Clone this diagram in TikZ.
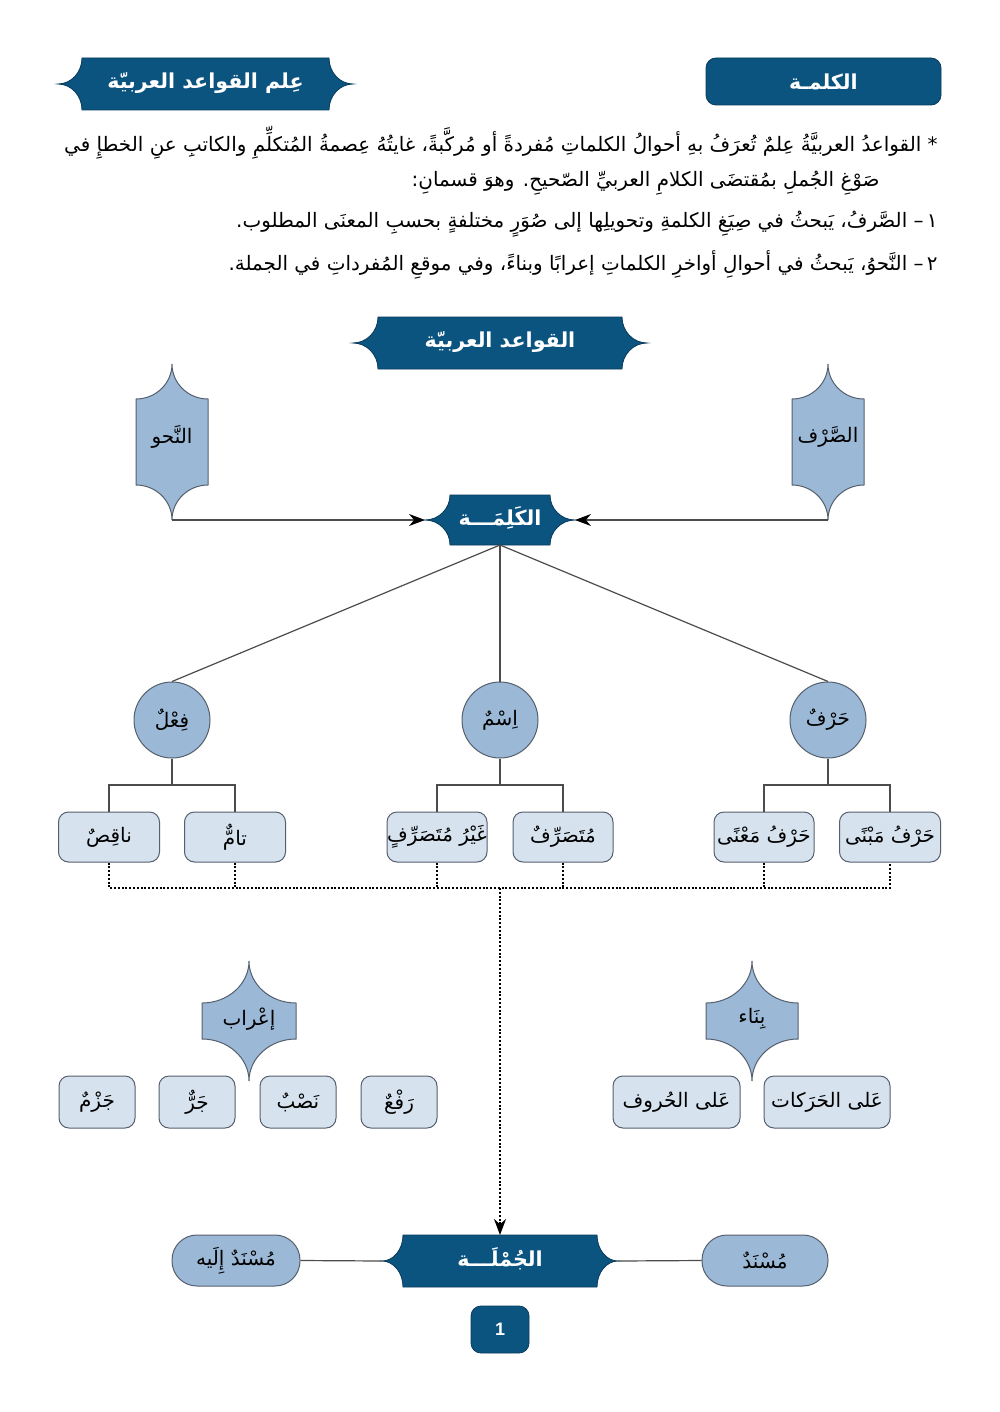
\documentclass[tikz,border=0pt]{standalone}
\usepackage{fontspec}
\usetikzlibrary{arrows.meta,calc}
\TeXXeTstate=1
\newfontfamily\ar[Script=Arabic]{DejaVu Sans}
\newfontfamily\lat{Liberation Sans}
\definecolor{dblue}{RGB}{12,84,128}
\definecolor{mblue}{RGB}{155,185,214}
\definecolor{lblue}{RGB}{214,227,239}
\definecolor{edgec}{RGB}{85,95,110}
\tikzset{
  conn/.style={draw=black!70, line width=0.6pt},
  dotsline/.style={draw=black, line width=1.1pt, dash pattern=on 1pt off 0.9pt},
  tip/.style={-{Stealth[length=8pt,width=6pt,black]}},
  titletext/.style={text=white, font=\fontsize{10.3}{12}\ar\bfseries, inner sep=0pt},
  lbl/.style={text=black, font=\fontsize{10}{12}\ar, inner sep=0pt},
  para/.style={text=black, font=\fontsize{9.95}{11}\ar, inner sep=0pt, anchor=east},
  darkfill/.style={fill=dblue, draw=dblue!70!black, line width=0.4pt},
  midfill/.style={fill=mblue, draw=edgec, line width=0.5pt},
  boxn/.style={draw=edgec, fill=lblue, rounded corners=5pt, minimum height=25pt,
    line width=0.5pt, text=black, font=\fontsize{10}{12}\ar, inner sep=0pt},
  circn/.style={circle, draw=edgec, fill=mblue, minimum size=38pt, line width=0.5pt,
    text=black, font=\fontsize{10}{12}\ar, inner sep=0pt},
  stadium/.style={draw=edgec, fill=mblue, rounded corners=12.5pt, minimum width=63pt,
    minimum height=25.5pt, line width=0.5pt, text=black, font=\fontsize{10}{12}\ar, inner sep=0pt},
}
% horizontal banner: name, cx, cy, half body width, half height, tip length
\newcommand\HBan[6]{%
  \begin{scope}[shift={(#2,#3)}]
    \path[darkfill] (-#4,-#5) -- (#4,-#5)
      .. controls (#4,{-0.448*#5}) and ({#4+0.448*#6},0) .. ({#4+#6},0)
      .. controls ({#4+0.448*#6},0) and (#4,{0.448*#5}) .. (#4,#5)
      -- (-#4,#5)
      .. controls (-#4,{0.448*#5}) and ({-#4-0.448*#6},0) .. ({-#4-#6},0)
      .. controls ({-#4-0.448*#6},0) and (-#4,{-0.448*#5}) .. cycle;
    \coordinate (#1-w) at ({-#4-#6},0);
    \coordinate (#1-e) at ({#4+#6},0);
    \coordinate (#1-n) at (0,-#5);
    \coordinate (#1-s) at (0,#5);
  \end{scope}}
% vertical banner
\newcommand\VBan[6]{%
  \begin{scope}[shift={(#2,#3)}]
    \path[midfill] (-#4,-#5)
      .. controls ({-0.448*#4},-#5) and (0,{-#5-0.448*#6}) .. (0,{-#5-#6})
      .. controls (0,{-#5-0.448*#6}) and ({0.448*#4},-#5) .. (#4,-#5)
      -- (#4,#5)
      .. controls ({0.448*#4},#5) and (0,{#5+0.448*#6}) .. (0,{#5+#6})
      .. controls (0,{#5+0.448*#6}) and ({-0.448*#4},#5) .. (-#4,#5) -- cycle;
    \coordinate (#1-n) at (0,{-#5-#6});
    \coordinate (#1-s) at (0,{#5+#6});
  \end{scope}}
\begin{document}
\begin{tikzpicture}[x=0.5pt,y=-0.5pt]
\fill[white] (0,0) rectangle (1000,1412);
\useasboundingbox (0,0) rectangle (1000,1412);

% header
\node[darkfill, rounded corners=5pt, minimum width=117.5pt, minimum height=23.5pt, titletext]
  (topkal) at (823.5,81.5) {\beginR الكلمـة\endR};
\HBan{topban}{205.5}{84}{123.5}{26}{24}
\node[titletext] (toptitle) at (205.5,83) {\beginR عِلم القواعد العربيّة\endR};

% paragraph
\node[para] (p1) at (938,143) {\beginR * القواعدُ العربيَّةُ عِلمٌ تُعرَفُ بهِ أحوالُ الكلماتِ مُفردةً أو مُركَّبةً، غايتُهُ عِصمةُ المُتكلِّمِ والكاتبِ عنِ الخطإِ في\endR};
\node[para] (p2) at (880,183) {\beginR صَوْغِ الجُملِ بمُقتضَى الكلامِ العربيِّ الصّحيحِ. وهوَ قسمانِ:\endR};
\node[para] (p3) at (938,224) {\beginR ١\,– الصَّرفُ، يَبحثُ في صِيَغِ الكلمةِ وتحويلِها إلى صُوَرٍ مختلفةٍ بحسبِ المعنَى المطلوب.\endR};
\node[para] (p4) at (938,265) {\beginR ٢\,– النَّحوُ، يَبحثُ في أحوالِ أواخرِ الكلماتِ إعرابًا وبناءً، وفي موقعِ المُفرداتِ في الجملة.\endR};

% main title
\HBan{qaw}{500}{343}{122}{26}{25}
\node[titletext] (qawt) at (500,342) {\beginR القواعد العربيّة\endR};

% side shapes
\VBan{nahw}{172}{442}{36}{43}{35}
\node[lbl] (nahwt) at (172,437) {\beginR النَّحو\endR};
\VBan{sarf}{828}{442}{36}{43}{35}
\node[lbl] (sarft) at (828,437) {\beginR الصَّرْف\endR};

% kalima
\HBan{kal}{500}{520}{50}{25}{25}
\node[titletext] (kalt) at (500,518) {\beginR الكَلِمَـــة\endR};
\draw[conn, tip] (nahw-s) -- (kal-w);
\draw[conn, tip] (sarf-s) -- (kal-e);

% circles
\node[circn] (fil) at (172,720) {\beginR فِعْلٌ\endR};
\node[circn] (ism) at (500,720) {\beginR اِسْمٌ\endR};
\node[circn] (harf) at (828,720) {\beginR حَرْفٌ\endR};
\draw[conn] (kal-s) -- (fil.north);
\draw[conn] (kal-s) -- (ism.north);
\draw[conn] (kal-s) -- (harf.north);

% boxes
\node[boxn, minimum width=50.5pt] (naqis) at (109,837) {\beginR ناقِصٌ\endR};
\node[boxn, minimum width=50.5pt] (tam) at (235,837) {\beginR تامٌّ\endR};
\node[boxn, minimum width=50pt] (ghayr) at (437,837) {\beginR غَيْرُ مُتَصَرِّفٍ\endR};
\node[boxn, minimum width=50pt] (mutas) at (563,837) {\beginR مُتَصَرِّفٌ\endR};
\node[boxn, minimum width=50pt] (mana) at (764,837) {\beginR حَرْفُ مَعْنًى\endR};
\node[boxn, minimum width=50.5pt] (mabna) at (890,837) {\beginR حَرْفُ مَبْنًى\endR};

\coordinate (filj) at (172,785);
\coordinate (ismj) at (500,785);
\coordinate (harfj) at (828,785);
\draw[conn] (fil.south) -- (filj);
\draw[conn] (ism.south) -- (ismj);
\draw[conn] (harf.south) -- (harfj);
\draw[conn] (naqis.north) |- (filj) -| (tam.north);
\draw[conn] (ghayr.north) |- (ismj) -| (mutas.north);
\draw[conn] (mana.north) |- (harfj) -| (mabna.north);

% dotted collector
\coordinate (dj) at (500,888);
\draw[dotsline] (naqis.south) |- (mabna.south |- dj) -- (mabna.south);
\draw[dotsline] (tam.south) -- (tam.south |- dj);
\draw[dotsline] (ghayr.south) -- (ghayr.south |- dj);
\draw[dotsline] (mutas.south) -- (mutas.south |- dj);
\draw[dotsline] (mana.south) -- (mana.south |- dj);

% irab / bina
\VBan{irab}{249}{1021}{47}{18}{42}
\node[lbl] (irabt) at (249,1019) {\beginR إعْراب\endR};
\VBan{bina}{752}{1021}{46}{18}{42}
\node[lbl] (binat) at (752,1019) {\beginR بِنَاء\endR};

\node[boxn, minimum width=38pt, minimum height=26pt] (raf) at (399,1102) {\beginR رَفْعٌ\endR};
\node[boxn, minimum width=38pt, minimum height=26pt] (nasb) at (298,1102) {\beginR نَصْبٌ\endR};
\node[boxn, minimum width=38pt, minimum height=26pt] (jarr) at (197,1102) {\beginR جَرٌّ\endR};
\node[boxn, minimum width=38pt, minimum height=26pt] (jazm) at (97,1102) {\beginR جَزْمٌ\endR};
\node[boxn, minimum width=63pt, minimum height=26pt] (harakat) at (827,1102) {\beginR عَلى الحَرَكات\endR};
\node[boxn, minimum width=63.5pt, minimum height=26pt] (huruf) at (676.5,1102) {\beginR عَلى الحُروف\endR};

% jumla
\HBan{jum}{500}{1261}{97}{26}{21}
\node[titletext] (jumt) at (500,1259) {\beginR الجُمْلَـــة\endR};
\draw[dotsline, -{Stealth[length=8pt,width=6pt,black]}] (dj) -- (jum-n);

\node[stadium] (musnad) at (765,1260.5) {\beginR مُسْنَدٌ\endR};
\node[stadium, minimum width=64pt] (musilayh) at (236,1260.5) {\beginR مُسْنَدٌ إِلَيه\endR};
\draw[conn] (musnad.west) -- (jum-e);
\draw[conn] (musilayh.east) -- (jum-w);

% page number
\node[darkfill, rounded corners=5pt, minimum width=29pt, minimum height=23.5pt, inner sep=0pt,
  text=white, font=\fontsize{9}{10}\lat\bfseries] (pg) at (500,1329.5) {1};
\end{tikzpicture}
\end{document}
